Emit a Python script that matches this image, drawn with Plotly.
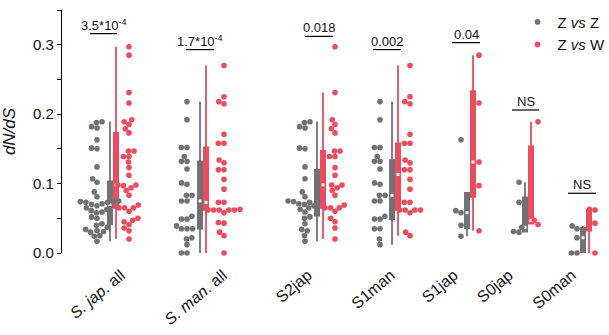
import numpy as np
import plotly.graph_objects as go

# ---------------- data (dN/dS values) ----------------
categories = ["<i>S. jap</i>. all", "<i>S. man</i>. all", "S2jap", "S1man", "S1jap", "S0jap", "S0man"]

s2jap_zz = [0.189, 0.188, 0.182, 0.180, 0.151, 0.150, 0.124, 0.107, 0.088, 0.081, 0.075, 0.074, 0.074,
            0.073, 0.071, 0.070, 0.068, 0.065, 0.063, 0.059, 0.052, 0.050, 0.042, 0.034, 0.032, 0.025, 0.017]
s2jap_zw = [0.297, 0.231, 0.192, 0.185, 0.179, 0.173, 0.147, 0.147, 0.139, 0.139, 0.123, 0.112, 0.098,
            0.098, 0.094, 0.090, 0.083, 0.069, 0.065, 0.065, 0.065, 0.060, 0.050, 0.045, 0.036, 0.020]
s1man_zz = [0.218, 0.192, 0.152, 0.152, 0.139, 0.132, 0.132, 0.121, 0.101, 0.099, 0.083, 0.083, 0.075,
            0.075, 0.053, 0.049, 0.049, 0.035, 0.035, 0.020, 0.012]
s1man_zw = [0.270, 0.225, 0.218, 0.215, 0.171, 0.158, 0.158, 0.134, 0.130, 0.120, 0.120, 0.106, 0.092,
            0.073, 0.073, 0.062, 0.062, 0.062, 0.062, 0.058, 0.030, 0.025]
s1jap_zz = [0.163, 0.061, 0.058, 0.040, 0.024]
s1jap_zw = [0.285, 0.216, 0.131, 0.097, 0.032]
s0jap_zz = [0.102, 0.073, 0.037, 0.031, 0.030]
s0jap_zw = [0.189, 0.047, 0.041]
s0man_zz = [0.039, 0.035, 0.022, 0.0, 0.0]
s0man_zw = [0.063, 0.062, 0.044, 0.043, 0.0]

# pooled species sets are the union of their subsets
sjap_all_zz = s2jap_zz + s1jap_zz + s0jap_zz
sjap_all_zw = s2jap_zw + s1jap_zw + s0jap_zw
sman_all_zz = s1man_zz + s0man_zz
sman_all_zw = s1man_zw + s0man_zw

zz_values = [sjap_all_zz, sman_all_zz, s2jap_zz, s1man_zz, s1jap_zz, s0jap_zz, s0man_zz]
zw_values = [sjap_all_zw, sman_all_zw, s2jap_zw, s1man_zw, s1jap_zw, s0jap_zw, s0man_zw]

sig_labels = ["3.5*10<sup>-4</sup>", "1.7*10<sup>-4</sup>", "0.018", "0.002", "0.04", "NS", "NS"]
sig_heights = [0.316, 0.293, 0.312, 0.293, 0.303, 0.206, 0.086]

# ---------------- layout constants ----------------
GRAY = "#707276"
RED = "#EF4B5F"
FONT = "Liberation Sans, Arial, Helvetica, sans-serif"
L, T, B = 62, 9.5, 81.7
W, H = 609, 335
PLOT_W = W - L
PLOT_H = H - T - B
YMAX = 0.35
PX_PER_UNIT = PLOT_H / YMAX

group_x = [51, 141, 258, 333, 408, 466, 524]          # x positions (px-like units)
label_x = [59, 161, 246, 329, 392, 447, 510]
swarm_off_zz = [-16, -16, -15, -15, -9, -9, -9]
swarm_off_zw = [16, 21, 15, 15, 9, 10, 9]
bracket_span = [(28, 55), (124, 152), (243, 271), (311, 339), (390, 418), (450, 477), (506, 534)]
BOX_OFF = 3
DOT = 5.6


def swarm_offsets(values, d=DOT):
    vals = np.asarray(values, dtype=float)
    order = np.argsort(vals, kind="stable")
    placed = []
    offs = np.zeros(len(vals))
    for i in order:
        y = vals[i] * PX_PER_UNIT
        neigh = [(px, py) for px, py in placed if abs(py - y) < d]
        cands = [0.0]
        for px, py in neigh:
            dx = np.sqrt(d * d - (py - y) ** 2)
            cands += [px + dx, px - dx]
        cands.sort(key=lambda c: (round(abs(c), 6), c))
        for c in cands:
            if all((c - px) ** 2 + (y - py) ** 2 >= d * d - 1e-6 for px, py in neigh):
                offs[i] = c
                placed.append((c, y))
                break
    return offs


fig = go.Figure()

# boxes (IQR bar + thin whisker)
for vals_list, sign, col in [(zz_values, -1, GRAY), (zw_values, 1, RED)]:
    bx, by = [], []
    for gi, vals in enumerate(vals_list):
        bx += [group_x[gi] + sign * BOX_OFF] * len(vals)
        by += list(vals)
    fig.add_trace(go.Box(
        x=bx, y=by, width=4.2, fillcolor=col, line=dict(color=col, width=1.8),
        whiskerwidth=0, boxpoints="outliers", marker=dict(opacity=0, size=1),
        showlegend=False, hoverinfo="skip",
    ))

# medians (white dots)
for vals_list, sign in [(zz_values, -1), (zw_values, 1)]:
    fig.add_trace(go.Scatter(
        x=[group_x[gi] + sign * BOX_OFF for gi in range(len(vals_list))],
        y=[float(np.median(v)) for v in vals_list],
        mode="markers", marker=dict(color="white", size=3, symbol="square"),
        showlegend=False, hoverinfo="skip", cliponaxis=False,
    ))

# swarm points
for vals_list, offs, col, name in [(zz_values, swarm_off_zz, GRAY, "Z <i>vs</i> Z"),
                                   (zw_values, swarm_off_zw, RED, "Z <i>vs</i> W")]:
    px_all, py_all = [], []
    for gi, vals in enumerate(vals_list):
        so = swarm_offsets(vals)
        px_all += list(group_x[gi] + offs[gi] + so)
        py_all += list(vals)
    fig.add_trace(go.Scatter(
        x=px_all, y=py_all, mode="markers", name=name,
        marker=dict(color=col, size=DOT, line=dict(width=0)),
        cliponaxis=False, hoverinfo="y",
    ))

# significance brackets
for (x0, x1), h, lab in zip(bracket_span, sig_heights, sig_labels):
    fig.add_shape(type="line", x0=x0, x1=x1, y0=h, y1=h, xref="x", yref="y",
                  line=dict(color="black", width=1.2))
    fig.add_annotation(x=(x0 + x1) / 2, y=h, text=lab, showarrow=False, xref="x", yref="y",
                       yanchor="bottom", xanchor="center", yshift=-1,
                       font=dict(family=FONT, size=13, color="#111"))

fig.update_layout(
    width=W, height=H,
    margin=dict(l=L, r=0, t=T, b=B, pad=0, autoexpand=False),
    paper_bgcolor="white", plot_bgcolor="white",
    font=dict(family=FONT, color="#111"),
    boxmode="overlay",
    showlegend=True,
    legend=dict(x=0.8327, y=1.018, xanchor="left", yanchor="top", bgcolor="rgba(0,0,0,0)",
                font=dict(family=FONT, size=15, color="#111"),
                tracegroupgap=0),
    xaxis=dict(range=[0, PLOT_W], showline=False, showgrid=False, zeroline=False, automargin=False,
               tickmode="array", tickvals=label_x, ticktext=categories, tickangle=-40,
               ticks="", ticklabelstandoff=9,
               tickfont=dict(family=FONT, size=16, color="#111")),
    yaxis=dict(range=[0, YMAX], showline=True, linecolor="black", linewidth=1.2, automargin=False,
               showgrid=False, zeroline=False,
               tickmode="linear", tick0=0, dtick=0.1, tickformat=".1f",
               ticks="outside", ticklen=4, tickwidth=1.2, tickcolor="black",
               minor=dict(dtick=0.05, tick0=0, ticks="outside", ticklen=4, tickwidth=1.2, tickcolor="black"),
               tickfont=dict(family=FONT, size=15, color="#111"),
               title=dict(text="<i>dN/dS</i>", standoff=14,
                          font=dict(family=FONT, size=17, color="#111"))),
)

fig.write_html("out.html", config={"displayModeBar": False},
               post_script="document.body.style.margin='0px';")
